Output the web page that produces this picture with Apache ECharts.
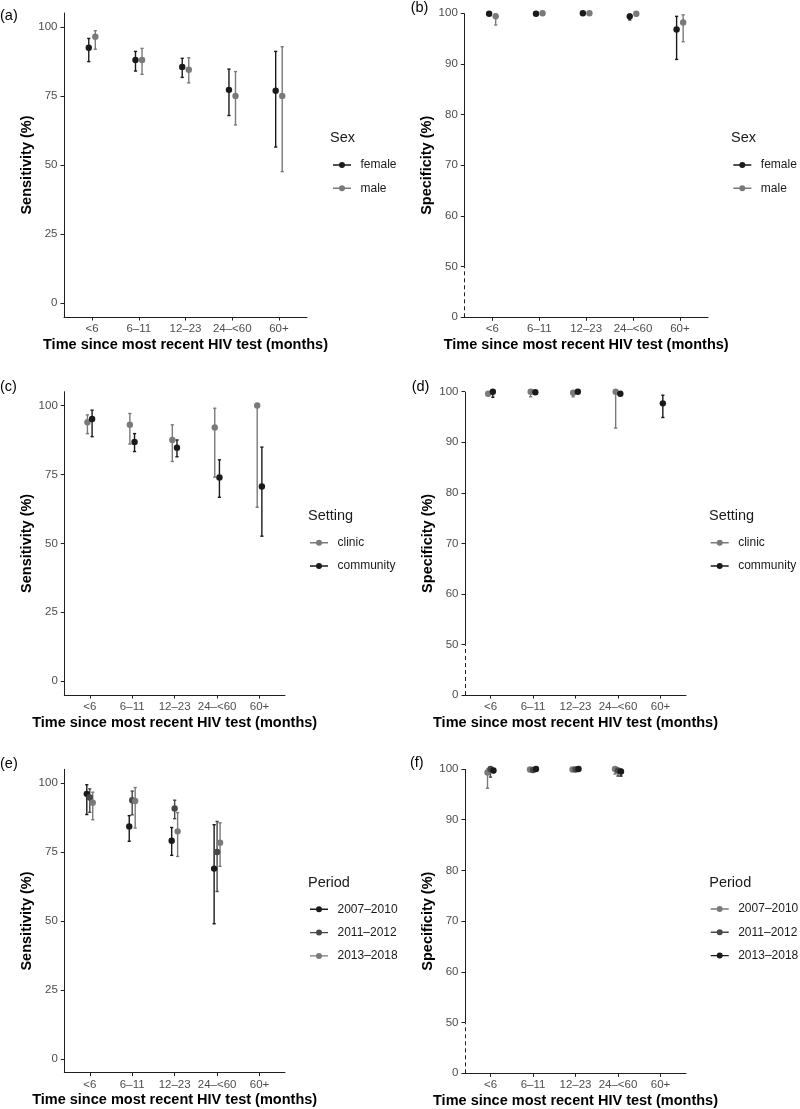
<!DOCTYPE html>
<html><head><meta charset="utf-8">
<script src="https://cdn.jsdelivr.net/npm/echarts@6/dist/echarts.min.js"></script>
<style>html,body{margin:0;padding:0;background:#fff}#c{width:800px;height:1109px}</style>
</head><body><div id="c"></div>
<script>
// ---------------- DATA ----------------
const categories = ['<6', '6–11', '12–23', '24–<60', '60+'];
const sensTicks = [0, 25, 50, 75, 100];
const specTicks = [0, 50, 60, 70, 80, 90, 100];

// (a) Sensitivity by sex
const aFemale     = [92.4, 88.0, 85.5, 77.2, 76.9];
const aFemaleLow  = [87.4, 84.0, 81.7, 67.9, 56.5];
const aFemaleHigh = [95.8, 91.1, 88.6, 84.7, 91.1];
const aMale       = [96.4, 88.0, 84.5, 75.0, 75.0];
const aMaleLow    = [91.9, 82.8, 79.7, 64.5, 47.6];
const aMaleHigh   = [98.6, 92.2, 88.8, 83.8, 92.8];

// (b) Specificity by sex
const bFemale     = [99.9, 99.9, 100, 99.4, 96.8];
const bFemaleLow  = [99.6, 99.7, 99.8, 98.7, 90.9];
const bFemaleHigh = [100, 100, 100, 99.8, 99.4];
const bMale       = [99.4, 100, 100, 99.9, 98.2];
const bMaleLow    = [97.7, 99.8, 99.8, 99.5, 94.4];
const bMaleHigh   = [99.9, 100, 100, 100, 99.7];

// (c) Sensitivity by setting
const cClinic         = [93.9, 93.0, 87.5, 92.0, 100];
const cClinicLow      = [89.8, 86.0, 79.7, 74.0, 63.1];
const cClinicHigh     = [96.6, 97.1, 93.0, 99.0, 100];
const cCommunity      = [95.1, 86.8, 84.7, 73.9, 70.6];
const cCommunityLow   = [88.7, 83.3, 81.4, 66.7, 52.6];
const cCommunityHigh  = [98.3, 89.8, 87.5, 80.3, 84.9];

// (d) Specificity by setting
const dClinic         = [99.6, 100, 99.8, 100, null];
const dClinicLow      = [99.2, 99.0, 99.0, 92.8, null];
const dClinicHigh     = [100, 100, 100, 100, null];
const dCommunity      = [100, 99.9, 100, 99.6, 97.7];
const dCommunityLow   = [98.9, 99.6, 99.7, 99.3, 94.9];
const dCommunityHigh  = [100, 100, 100, 99.9, 99.3];

// (e) Sensitivity by period
const eP1     = [96.1, 84.3, 79.1, 69.0, null];
const eP1Low  = [88.6, 78.9, 73.8, 49.0, null];
const eP1High = [99.4, 88.2, 83.9, 84.9, null];
const eP2     = [94.8, 93.8, 90.8, 75.0, null];
const eP2Low  = [89.4, 88.5, 87.1, 60.7, null];
const eP2High = [97.9, 97.1, 93.8, 86.1, null];
const eP3     = [92.9, 93.5, 82.5, 78.4, null];
const eP3Low  = [86.7, 83.7, 73.4, 69.8, null];
const eP3High = [96.7, 98.4, 89.3, 85.6, null];

// (f) Specificity by period
const fP1     = [99.3, 99.9, 99.9, 100, null];
const fP1Low  = [96.2, 99.5, 99.6, 99.0, null];
const fP1High = [100, 100, 100, 100, null];
const fP2     = [100, 99.8, 99.9, 99.7, null];
const fP2Low  = [98.4, 99.4, 99.7, 98.6, null];
const fP2High = [100, 100, 100, 100, null];
const fP3     = [99.7, 100, 100, 99.5, null];
const fP3Low  = [99.3, 99.7, 99.8, 98.6, null];
const fP3High = [100, 100, 100, 99.9, null];

// ---------------- STYLE / LAYOUT ----------------
const FONT = "'Liberation Sans', Arial, Helvetica, sans-serif";
const BLACK = '#1a1a1a', DARK = '#474747', GREY = '#7a7a7a';
const AXIS = '#1f1f1f', TICKTXT = '#4d4d4d';
const X_MIN = 0.4, X_MAX = 5.6;
const KEY_ICON = 'path://M0,2.3H6.2V3.7H0Z M11.8,2.3H18V3.7H11.8Z M6,3A3,3 0 1,1 12,3A3,3 0 1,1 6,3Z';

// broken specificity axis: 0..50 compressed into 40..50
const specPos = v => (v >= 50 ? v : 40 + v / 5);
const specInv = p => (p >= 50 ? p : (p - 40) * 5);

const panels = [
  { label: '(a)', labelXY: [0, 15.5], kind: 'sens', ytitle: 'Sensitivity (%)',
    grid: { left: 64, top: 13, width: 243, height: 304 },
    legendTitle: 'Sex', legendTitleXY: [330, 138], legendLT: [333, 159],
    offsets: [-0.07, 0.07],
    groups: [
      { name: 'female', color: BLACK, v: aFemale, lo: aFemaleLow, hi: aFemaleHigh },
      { name: 'male', color: GREY, v: aMale, lo: aMaleLow, hi: aMaleHigh } ] },
  { label: '(b)', labelXY: [410.7, 8], kind: 'spec', ytitle: 'Specificity (%)',
    grid: { left: 464.3, top: 13.3, width: 243.7, height: 304 },
    legendTitle: 'Sex', legendTitleXY: [731, 138], legendLT: [733.3, 159],
    offsets: [-0.07, 0.07],
    groups: [
      { name: 'female', color: BLACK, v: bFemale, lo: bFemaleLow, hi: bFemaleHigh },
      { name: 'male', color: GREY, v: bMale, lo: bMaleLow, hi: bMaleHigh } ] },
  { label: '(c)', labelXY: [0, 386.7], kind: 'sens', ytitle: 'Sensitivity (%)',
    grid: { left: 64.3, top: 391.7, width: 220.7, height: 303.3 },
    legendTitle: 'Setting', legendTitleXY: [308, 516], legendLT: [310, 536.7],
    offsets: [-0.055, 0.055],
    groups: [
      { name: 'clinic', color: GREY, v: cClinic, lo: cClinicLow, hi: cClinicHigh },
      { name: 'community', color: BLACK, v: cCommunity, lo: cCommunityLow, hi: cCommunityHigh } ] },
  { label: '(d)', labelXY: [411.7, 387], kind: 'spec', ytitle: 'Specificity (%)',
    grid: { left: 465, top: 391.7, width: 221, height: 303.3 },
    legendTitle: 'Setting', legendTitleXY: [709, 516], legendLT: [710.7, 536.7],
    offsets: [-0.055, 0.055],
    groups: [
      { name: 'clinic', color: GREY, v: dClinic, lo: dClinicLow, hi: dClinicHigh },
      { name: 'community', color: BLACK, v: dCommunity, lo: dCommunityLow, hi: dCommunityHigh } ] },
  { label: '(e)', labelXY: [0, 764], kind: 'sens', ytitle: 'Sensitivity (%)',
    grid: { left: 64.3, top: 769.3, width: 220.7, height: 303.4 },
    legendTitle: 'Period', legendTitleXY: [308, 883.3], legendLT: [310, 903.3],
    offsets: [-0.07, 0, 0.07],
    groups: [
      { name: '2007–2010', color: BLACK, v: eP1, lo: eP1Low, hi: eP1High },
      { name: '2011–2012', color: DARK, v: eP2, lo: eP2Low, hi: eP2High },
      { name: '2013–2018', color: GREY, v: eP3, lo: eP3Low, hi: eP3High } ] },
  { label: '(f)', labelXY: [410, 763], kind: 'spec', ytitle: 'Specificity (%)',
    grid: { left: 465, top: 769, width: 221, height: 304.3 },
    legendTitle: 'Period', legendTitleXY: [709.3, 883], legendLT: [710.7, 903],
    offsets: [-0.07, 0, 0.07],
    groups: [
      { name: '2007–2010', color: GREY, v: fP1, lo: fP1Low, hi: fP1High },
      { name: '2011–2012', color: DARK, v: fP2, lo: fP2Low, hi: fP2High },
      { name: '2013–2018', color: BLACK, v: fP3, lo: fP3Low, hi: fP3High } ] }
];

// ---------------- BUILD ----------------
const grids = [], xAxes = [], yAxes = [], series = [], legends = [], graphics = [];
const catPos = categories.map((c, i) => i + 1);

function renderErr(params, api) {
  const lo = api.value(1), hi = api.value(2);
  if (isNaN(lo) || isNaN(hi)) return null;
  const x = api.value(0);
  const p1 = api.coord([x, lo]), p2 = api.coord([x, hi]);
  const st = { stroke: api.visual('color'), lineWidth: 1.4 };
  const cap = 1.6;
  return { type: 'group', children: [
    { type: 'line', shape: { x1: p1[0], y1: p1[1], x2: p2[0], y2: p2[1] }, style: st },
    { type: 'line', shape: { x1: p1[0] - cap, y1: p1[1], x2: p1[0] + cap, y2: p1[1] }, style: st },
    { type: 'line', shape: { x1: p2[0] - cap, y1: p2[1], x2: p2[0] + cap, y2: p2[1] }, style: st }
  ] };
}

panels.forEach((p, pi) => {
  const spec = p.kind === 'spec';
  const yMap = spec ? specPos : (v => v);
  grids.push(Object.assign({ containLabel: false, outerBoundsMode: 'none' }, p.grid));
  xAxes.push({
    type: 'value', gridIndex: pi, min: X_MIN, max: X_MAX,
    name: 'Time since most recent HIV test (months)', nameLocation: 'middle', nameGap: 20,
    nameMoveOverlap: false,
    nameTextStyle: { fontFamily: FONT, fontSize: 14.5, fontWeight: 'bold', color: '#000' },
    axisLine: { show: true, onZero: false, lineStyle: { color: AXIS, width: 1 } },
    axisTick: { show: true, length: 3.5, customValues: catPos, lineStyle: { color: AXIS, width: 1 } },
    axisLabel: { show: true, customValues: catPos, margin: 6, fontFamily: FONT, fontSize: 11.5, color: TICKTXT,
      formatter: v => categories[Math.round(v) - 1] },
    splitLine: { show: false }
  });
  const ticks = spec ? specTicks.map(specPos) : sensTicks;
  yAxes.push({
    type: 'value', gridIndex: pi,
    min: spec ? specPos(0) : -5, max: spec ? 100 : 105,
    name: p.ytitle, nameLocation: 'middle', nameGap: 29.5, nameMoveOverlap: false,
    nameTextStyle: { fontFamily: FONT, fontSize: 14.5, fontWeight: 'bold', color: '#000' },
    axisLine: { show: !spec, onZero: false, lineStyle: { color: AXIS, width: 1 } },
    axisTick: { show: true, length: 3.5, customValues: ticks, lineStyle: { color: AXIS, width: 1 } },
    axisLabel: { show: true, customValues: ticks, margin: 6.5, fontFamily: FONT, fontSize: 11.5, color: TICKTXT,
      formatter: v => String(Math.round(spec ? specInv(v) : v)) },
    splitLine: { show: false }
  });

  p.groups.forEach((g, gi) => {
    const off = p.offsets[gi];
    const errData = categories.map((c, i) => [catPos[i] + off,
      g.lo[i] == null ? null : yMap(g.lo[i]), g.hi[i] == null ? null : yMap(g.hi[i])]).filter(d => d[1] != null);
    const ptData = categories.map((c, i) => [catPos[i] + off, g.v[i] == null ? null : yMap(g.v[i])]).filter(d => d[1] != null);
    series.push({
      type: 'custom', name: g.name, xAxisIndex: pi, yAxisIndex: pi, clip: false, silent: true,
      itemStyle: { color: g.color }, encode: { x: 0, y: [1, 2] }, renderItem: renderErr,
      data: errData, z: 2
    });
    const sc = {
      type: 'scatter', name: g.name, xAxisIndex: pi, yAxisIndex: pi, clip: false, silent: true,
      symbol: 'circle', symbolSize: 6.4, itemStyle: { color: g.color, opacity: 1 },
      emphasis: { disabled: true }, data: ptData, z: 3
    };
    if (spec && gi === 0) {
      sc.markLine = {
        silent: true, animation: false, symbol: ['none', 'none'], label: { show: false },
        emphasis: { disabled: true },
        lineStyle: { color: AXIS, width: 1, type: 'solid' },
        data: [
          [{ coord: [X_MIN, specPos(50)], lineStyle: { type: 'solid', color: AXIS, width: 1 } }, { coord: [X_MIN, 100] }],
          [{ coord: [X_MIN, specPos(0)], lineStyle: { type: [4, 3], color: AXIS, width: 1 } }, { coord: [X_MIN, specPos(50)] }]
        ]
      };
    }
    series.push(sc);
  });

  legends.push({
    orient: 'vertical', left: p.legendLT[0], top: p.legendLT[1], padding: 0,
    itemWidth: 18, itemHeight: 6, itemGap: 11.3, selectedMode: false, icon: KEY_ICON,
    textStyle: { fontFamily: FONT, fontSize: 12, color: '#1a1a1a', lineHeight: 12, padding: [0, 0, 0, 4.5] },
    data: p.groups.map(g => ({ name: g.name, icon: KEY_ICON, itemStyle: { color: g.color } }))
  });

  graphics.push({ type: 'text', x: p.labelXY[0], y: p.labelXY[1], silent: true,
    style: { text: p.label, font: '14.5px ' + FONT, fill: '#000', verticalAlign: 'middle', align: 'left' } });
  graphics.push({ type: 'text', x: p.legendTitleXY[0], y: p.legendTitleXY[1], silent: true,
    style: { text: p.legendTitle, font: '14.5px ' + FONT, fill: '#1a1a1a', verticalAlign: 'middle', align: 'left' } });
});

const chart = echarts.init(document.getElementById('c'), null, { renderer: 'canvas' });
chart.setOption({
  backgroundColor: '#fff',
  animation: false,
  grid: grids, xAxis: xAxes, yAxis: yAxes, series: series,
  legend: legends,
  graphic: graphics,
  tooltip: { show: false }
});
</script>
</body></html>
